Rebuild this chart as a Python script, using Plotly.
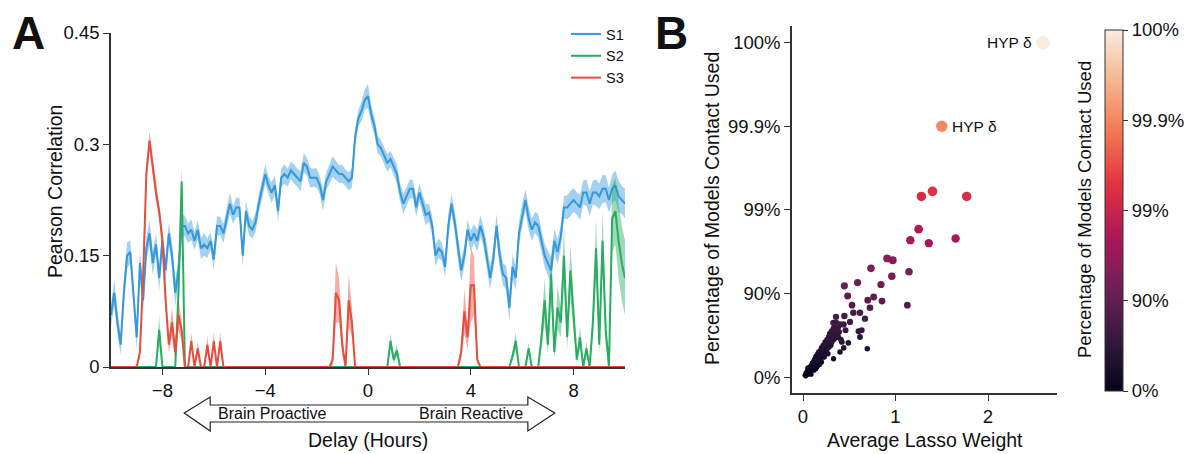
import numpy as np
import plotly.graph_objects as go

# ---------------- Panel A: correlation vs. delay ----------------
delay_hours = [round(-10 + 0.125 * i, 3) for i in range(161)]

s1_mean = [
    0.07, 0.10, 0.06, 0.03, 0.10, 0.15, 0.155, 0.10,
    0.04, 0.14, 0.09, 0.16, 0.18, 0.14, 0.165, 0.12,
    0.17, 0.13, 0.18, 0.15, 0.10, 0.13, 0.19, 0.19,
    0.18, 0.185, 0.17, 0.185, 0.16, 0.165, 0.16, 0.17,
    0.145, 0.19, 0.19, 0.18, 0.20, 0.22, 0.205, 0.215,
    0.215, 0.15, 0.21, 0.19, 0.185, 0.195, 0.22, 0.24,
    0.26, 0.245, 0.235, 0.245, 0.21, 0.255, 0.26, 0.255,
    0.265, 0.26, 0.255, 0.25, 0.275, 0.27, 0.255, 0.255,
    0.255, 0.245, 0.225, 0.25, 0.26, 0.27, 0.265, 0.26,
    0.26, 0.255, 0.25, 0.255, 0.31, 0.335, 0.345, 0.36,
    0.365, 0.34, 0.325, 0.30, 0.295, 0.285, 0.275, 0.28,
    0.27, 0.26, 0.235, 0.22, 0.23, 0.24, 0.24, 0.215,
    0.235, 0.22, 0.205, 0.208, 0.19, 0.15, 0.16, 0.155,
    0.135, 0.19, 0.22, 0.195, 0.16, 0.13, 0.15, 0.185,
    0.17, 0.18, 0.17, 0.19, 0.175, 0.15, 0.12, 0.145,
    0.19, 0.15, 0.125, 0.12, 0.08, 0.135, 0.12, 0.18,
    0.205, 0.225, 0.20, 0.185, 0.195, 0.19, 0.17, 0.15,
    0.14, 0.13, 0.17, 0.155, 0.175, 0.215, 0.215, 0.22,
    0.225, 0.22, 0.215, 0.235, 0.235, 0.22, 0.235, 0.235,
    0.23, 0.24, 0.24, 0.225, 0.24, 0.245, 0.23, 0.225,
    0.22,
]
s1_err = [
    .015, .018, .016, .014, .016, .018, .015, .016,
    .016, .018, .016, .015, .017, .016, .015, .018,
    .016, .017, .015, .016, .018, .016, .015, .014,
    .013, .014, .012, .013, .014, .015, .013, .012,
    .014, .013, .012, .013, .012, .014, .012, .013,
    .013, .015, .014, .013, .012, .013, .012, .014,
    .013, .012, .014, .013, .015, .012, .013, .012,
    .012, .013, .012, .014, .013, .012, .013, .012,
    .013, .012, .014, .012, .013, .014, .013, .012,
    .012, .011, .012, .013, .012, .011, .013, .014,
    .016, .013, .012, .012, .011, .012, .012, .011,
    .012, .013, .012, .014, .012, .013, .012, .013,
    .012, .013, .014, .012, .013, .014, .013, .012,
    .014, .015, .013, .014, .016, .015, .014, .013,
    .014, .013, .015, .014, .013, .015, .016, .014,
    .016, .017, .015, .016, .018, .017, .016, .015,
    .015, .014, .016, .015, .014, .016, .015, .016,
    .017, .018, .016, .017, .016, .015, .016, .017,
    .016, .015, .017, .016, .018, .017, .016, .018,
    .017, .019, .018, .017, .019, .020, .021, .019,
    .020,
]

s2_mean = [
    0, 0, 0, 0, 0, 0, 0, 0,
    0, 0, 0, 0, 0, 0, 0, 0.05,
    0, 0, 0, 0, 0, 0.10, 0.25, 0,
    0, 0, 0, 0, 0, 0, 0, 0,
    0, 0, 0, 0, 0, 0, 0, 0,
    0, 0, 0, 0, 0, 0, 0, 0,
    0, 0, 0, 0, 0, 0, 0, 0,
    0, 0, 0, 0, 0, 0, 0, 0,
    0, 0, 0, 0, 0, 0, 0, 0,
    0, 0, 0, 0, 0, 0, 0, 0,
    0, 0, 0, 0, 0, 0, 0, 0.035,
    0.01, 0.022, 0, 0, 0, 0, 0, 0,
    0, 0, 0, 0, 0, 0, 0, 0,
    0, 0, 0, 0, 0, 0, 0, 0,
    0, 0, 0, 0, 0, 0, 0, 0,
    0, 0, 0, 0, 0, 0.015, 0.035, 0,
    0, 0, 0.025, 0, 0, 0, 0.04, 0.09,
    0.03, 0.125, 0.02, 0.08, 0.06, 0.15, 0.04, 0.13,
    0.07, 0.01, 0.04, 0, 0.025, 0, 0.06, 0.16,
    0.03, 0.17, 0.05, 0, 0.20, 0.21, 0.17, 0.14,
    0.12,
]
s2_err = [
    0, 0, 0, 0, 0, 0, 0, 0,
    0, 0, 0, 0, 0, 0, 0, 0.02,
    0, 0, 0, 0, 0, 0.03, 0.02, 0,
    0, 0, 0, 0, 0, 0, 0, 0,
    0, 0, 0, 0, 0, 0, 0, 0,
    0, 0, 0, 0, 0, 0, 0, 0,
    0, 0, 0, 0, 0, 0, 0, 0,
    0, 0, 0, 0, 0, 0, 0, 0,
    0, 0, 0, 0, 0, 0, 0, 0,
    0, 0, 0, 0, 0, 0, 0, 0,
    0, 0, 0, 0, 0, 0, 0, 0.01,
    0.005, 0.008, 0, 0, 0, 0, 0, 0,
    0, 0, 0, 0, 0, 0, 0, 0,
    0, 0, 0, 0, 0, 0, 0, 0,
    0, 0, 0, 0, 0, 0, 0, 0,
    0, 0, 0, 0, 0, 0.006, 0.012, 0,
    0, 0, 0.008, 0, 0, 0, 0.015, 0.03,
    0.012, 0.04, 0.008, 0.03, 0.02, 0.04, 0.015, 0.035,
    0.025, 0.005, 0.015, 0, 0.01, 0, 0.02, 0.04,
    0.012, 0.04, 0.02, 0, 0.045, 0.045, 0.05, 0.05,
    0.05,
]

s3_mean = [
    0, 0, 0, 0, 0, 0, 0, 0,
    0, 0.02, 0.12, 0.26, 0.305, 0.27, 0.235, 0.21,
    0.17, 0.09, 0.03, 0.06, 0.02, 0.07, 0.05, 0,
    0, 0.035, 0, 0.025, 0, 0, 0.03, 0,
    0.035, 0, 0.035, 0, 0, 0, 0, 0,
    0, 0, 0, 0, 0, 0, 0, 0,
    0, 0, 0, 0, 0, 0, 0, 0,
    0, 0, 0, 0, 0, 0, 0, 0,
    0, 0, 0, 0, 0, 0.01, 0.10, 0.09,
    0.03, 0, 0.09, 0.06, 0, 0, 0, 0,
    0, 0, 0, 0, 0, 0, 0, 0,
    0, 0, 0, 0, 0, 0, 0, 0,
    0, 0, 0, 0, 0, 0, 0, 0,
    0, 0, 0, 0, 0, 0.02, 0.075, 0.04,
    0.11, 0.11, 0.01, 0, 0, 0, 0, 0,
    0, 0, 0, 0, 0, 0, 0, 0,
    0, 0, 0, 0, 0, 0, 0, 0,
    0, 0, 0, 0, 0, 0, 0, 0,
    0, 0, 0, 0, 0, 0, 0, 0,
    0, 0, 0, 0, 0, 0, 0, 0,
    0,
]
s3_err = [
    0, 0, 0, 0, 0, 0, 0, 0,
    0, 0.008, 0.02, 0.015, 0.012, 0.015, 0.012, 0.012,
    0.015, 0.012, 0.01, 0.02, 0.012, 0.02, 0.015, 0,
    0, 0.012, 0, 0.01, 0, 0, 0.012, 0,
    0.012, 0, 0.012, 0, 0, 0, 0, 0,
    0, 0, 0, 0, 0, 0, 0, 0,
    0, 0, 0, 0, 0, 0, 0, 0,
    0, 0, 0, 0, 0, 0, 0, 0,
    0, 0, 0, 0, 0, 0.01, 0.04, 0.03,
    0.015, 0, 0.035, 0.02, 0, 0, 0, 0,
    0, 0, 0, 0, 0, 0, 0, 0,
    0, 0, 0, 0, 0, 0, 0, 0,
    0, 0, 0, 0, 0, 0, 0, 0,
    0, 0, 0, 0, 0, 0.01, 0.03, 0.015,
    0.05, 0.04, 0.005, 0, 0, 0, 0, 0,
    0, 0, 0, 0, 0, 0, 0, 0,
    0, 0, 0, 0, 0, 0, 0, 0,
    0, 0, 0, 0, 0, 0, 0, 0,
    0, 0, 0, 0, 0, 0, 0, 0,
    0, 0, 0, 0, 0, 0, 0, 0,
    0,
]

series_names = ["S1", "S2", "S3"]
series_colors = ["rgb(52,152,219)", "rgb(39,174,96)", "rgb(231,76,60)"]
series_fills = ["rgba(52,152,219,0.45)", "rgba(39,174,96,0.45)", "rgba(231,76,60,0.45)"]

corr_ticks = [0, 0.15, 0.3, 0.45]
corr_ticktext = ["0", "0.15", "0.3", "0.45"]
delay_ticks = [-8, -4, 0, 4, 8]

# ---------------- Panel B: lasso weight vs. model usage ----------------
lasso_weight = [
    0.02, 0.03, 0.04, 0.05, 0.05, 0.06, 0.07, 0.07, 0.08, 0.09, 0.09, 0.10,
    0.10, 0.11, 0.12, 0.12, 0.13, 0.13, 0.14, 0.14, 0.15, 0.15, 0.16, 0.16,
    0.17, 0.17, 0.18, 0.18, 0.19, 0.19, 0.20, 0.20, 0.21, 0.21, 0.22, 0.22,
    0.23, 0.23, 0.24, 0.24, 0.25, 0.25, 0.26, 0.26, 0.27, 0.27, 0.28, 0.28,
    0.29, 0.29, 0.30, 0.30, 0.31, 0.31, 0.32, 0.33, 0.33, 0.33, 0.34, 0.35,
    0.35, 0.36, 0.36, 0.37, 0.38, 0.38, 0.39, 0.40, 0.40, 0.41, 0.42, 0.44,
    0.44, 0.46, 0.49, 0.04, 0.06, 0.08, 0.11, 0.12, 0.14, 0.16, 0.18, 0.20,
    0.03, 0.05, 0.09,
    0.357, 0.447, 0.67, 0.508, 0.328, 0.634, 0.60, 0.616, 0.695, 0.544,
    0.616, 0.724, 0.53, 0.854, 0.764, 0.70, 0.483, 1.128, 0.843, 0.59,
    0.447, 1.146, 0.96, 0.735, 0.97, 0.91, 1.65, 1.36, 1.16, 1.25,
    1.77, 1.40, 1.28,
]
pct_models_used = [
    4.5, 10.9, 6.7, 16.8, 8.8, 20.6, 12.9, 24.1, 18.7, 27.6, 14.9, 24.1,
    32.4, 20.6, 29.2, 36.9, 25.9, 39.7, 32.4, 43.8, 36.9, 24.1, 42.5, 47.5,
    33.9, 49.9, 39.7, 45.0, 52.1, 36.9, 46.3, 55.3, 42.5, 49.9, 58.3, 47.5,
    53.2, 42.5, 56.3, 62.0, 49.9, 59.3, 64.5, 54.3, 60.2, 47.5, 66.9, 56.3,
    62.8, 69.8, 58.3, 66.1, 71.8, 62.0, 68.4, 39.7, 73.7, 64.5, 70.5, 76.0,
    66.1, 77.6, 72.5, 68.4, 74.9, 66.9, 71.2, 49.9, 76.6, 64.5, 62.0, 55.3,
    76.6, 72.5, 61.1, 12.9, 6.7, 10.9, 30.8, 16.8, 20.6, 27.6, 29.2, 33.9,
    2.3, 22.4, 6.7,
    81.0, 81.4, 80.0, 78.1, 77.6, 72.5, 71.8, 66.9, 54.3, 83.0,
    83.0, 85.2, 86.2, 87.7, 89.0, 88.0, 89.3, 86.2, 92.2, 92.6,
    91.9, 94.5, 93.8, 95.0, 96.0, 96.2, 97.8, 97.5, 97.7, 98.3,
    99.31, 99.40, 99.31,
]
labeled_weight = [1.50, 2.595]
labeled_pct = [99.9, 100.0]
labeled_text = ["HYP δ", "HYP δ"]

pct_ticks = [0, 90, 99, 99.9, 100]
pct_ticktext = ["0%", "90%", "99%", "99.9%", "100%"]

rocket = [
    [0.0, "#03051A"], [0.143, "#35193E"], [0.286, "#701F57"], [0.429, "#AD1759"],
    [0.571, "#E13342"], [0.714, "#F37651"], [0.857, "#F6B48F"], [1.0, "#FAEBDD"],
]


def nines(p):
    """Map a percentage onto the 'number of nines' scale (100% capped at 4)."""
    p = np.asarray(p, dtype=float)
    return -np.log10(np.clip(1.0 - p / 100.0, 1e-4, None))


FONT = "Arial, Liberation Sans, Helvetica, sans-serif"
W, H = 1186, 454

fig = go.Figure()

x_arr = np.array(delay_hours)
for name, mean, err, col, fill in zip(
    series_names, [s1_mean, s2_mean, s3_mean], [s1_err, s2_err, s3_err],
    series_colors, series_fills,
):
    m = np.array(mean)
    e = np.array(err)
    upper = m + e
    lower = np.clip(m - e, 0, None)
    fig.add_trace(go.Scatter(
        x=np.concatenate([x_arr, x_arr[::-1]]),
        y=np.concatenate([upper, lower[::-1]]),
        fill="toself", fillcolor=fill, line=dict(width=0),
        mode="lines", hoverinfo="skip", showlegend=False,
        xaxis="x", yaxis="y",
    ))
    fig.add_trace(go.Scatter(
        x=x_arr, y=m, mode="lines", name=name,
        line=dict(color=col, width=2),
        xaxis="x", yaxis="y",
    ))

# scatter, drawn in increasing order so the strongest contacts sit on top
all_w = np.array(lasso_weight + labeled_weight)
all_p = np.array(pct_models_used + labeled_pct)
t_all = nines(all_p)
order = np.argsort(t_all)
fig.add_trace(go.Scatter(
    x=all_w[order], y=t_all[order], mode="markers", showlegend=False,
    xaxis="x2", yaxis="y2",
    marker=dict(
        color=t_all[order], colorscale=rocket, cmin=0, cmax=4,
        size=4.8 + 2.2 * t_all[order], line=dict(width=0), opacity=1,
        colorbar=dict(
            x=1105 / W, xanchor="left", y=1 - 210.5 / H, yanchor="middle",
            len=361 / H, lenmode="fraction", thickness=18, xpad=0, ypad=0,
            outlinecolor="#333", outlinewidth=1,
            tickvals=list(nines(pct_ticks)), ticktext=pct_ticktext,
            ticks="outside", ticklen=5, tickcolor="#333",
            tickfont=dict(family=FONT, size=18.5, color="#111"),
        ),
    ),
))

axis_common = dict(
    showgrid=False, zeroline=False, showline=True, linecolor="#333", linewidth=1.5,
    ticks="outside", ticklen=6, tickwidth=1.2, tickcolor="#333",
    tickfont=dict(family=FONT, size=18.5, color="#111"),
    automargin=False,
)

fig.update_layout(
    width=W, height=H, margin=dict(l=0, r=0, t=0, b=0, autoexpand=False),
    paper_bgcolor="white", plot_bgcolor="white",
    font=dict(family=FONT, color="#111"),
    xaxis=dict(domain=[111 / W, 625 / W], range=[-10, 10], tickvals=delay_ticks,
               anchor="y", **axis_common),
    yaxis=dict(domain=[1 - 367 / H, 1 - 33 / H], range=[0, 0.45], tickvals=corr_ticks,
               ticktext=corr_ticktext, anchor="x", **axis_common),
    xaxis2=dict(domain=[792 / W, 1057 / W], range=[-0.119, 2.746], tickvals=[0, 1, 2],
                anchor="y2", **axis_common),
    yaxis2=dict(domain=[1 - 393 / H, 1 - 26 / H], range=[-0.19, 4.2],
                tickvals=list(nines(pct_ticks)), ticktext=pct_ticktext,
                anchor="x2", **axis_common),
    legend=dict(x=566 / W, xanchor="left", y=1 - 18 / H, yanchor="top",
                font=dict(family=FONT, size=14.5, color="#111"),
                bgcolor="rgba(0,0,0,0)", tracegroupgap=0, itemwidth=30),
    showlegend=True,
)

# double-headed "proactive / reactive" arrow under panel A
yp = lambda py: 1 - py / H
arrow_path = (
    f"M -7.15,{yp(413)} L -6.14,{yp(397)} L -6.14,{yp(405)} L 6.22,{yp(405)} "
    f"L 6.22,{yp(397)} L 7.27,{yp(413)} L 6.22,{yp(431)} L 6.22,{yp(422)} "
    f"L -6.14,{yp(422)} L -6.14,{yp(431)} Z"
)
fig.add_shape(type="path", path=arrow_path, xref="x", yref="paper",
              line=dict(color="#222", width=1.2), fillcolor="white")


def label(text, x, y, xref="paper", yref="paper", xanchor="center", size=19.5,
          angle=0, bold=False):
    return dict(text=f"<b>{text}</b>" if bold else text, x=x, y=y, xref=xref, yref=yref,
                xanchor=xanchor, yanchor="middle", textangle=angle, showarrow=False,
                font=dict(family=FONT, size=size, color="#111"))


ann = [
    label("Brain Proactive", -5.9, yp(413), xref="x", xanchor="left", size=16),
    label("Brain Reactive", 6.1, yp(413), xref="x", xanchor="right", size=16),
    # axis titles
    label("Pearson Correlation", 55 / W, yp(192), angle=-90),
    label("Delay (Hours)", 368 / W, yp(440)),
    label("Percentage of Models Contact Used", 712 / W, yp(209), angle=-90),
    label("Average Lasso Weight", 925 / W, yp(440)),
    label("Percentage of Models Contact Used", 1084 / W, yp(210), angle=-90, size=18.5),
    # panel letters
    label("A", 10 / W, yp(33), xanchor="left", size=46, bold=True),
    label("B", 653 / W, yp(33), xanchor="left", size=46, bold=True),
]
# contact labels
lab_t = nines(labeled_pct)
ann.append(label(labeled_text[0], labeled_weight[0] + 0.09, lab_t[0], xref="x2", yref="y2",
                 xanchor="left", size=15.5))
ann.append(label(labeled_text[1], labeled_weight[1] - 0.1, lab_t[1], xref="x2", yref="y2",
                 xanchor="right", size=15.5))
fig.update_layout(annotations=ann)

fig.write_html("out.html")
